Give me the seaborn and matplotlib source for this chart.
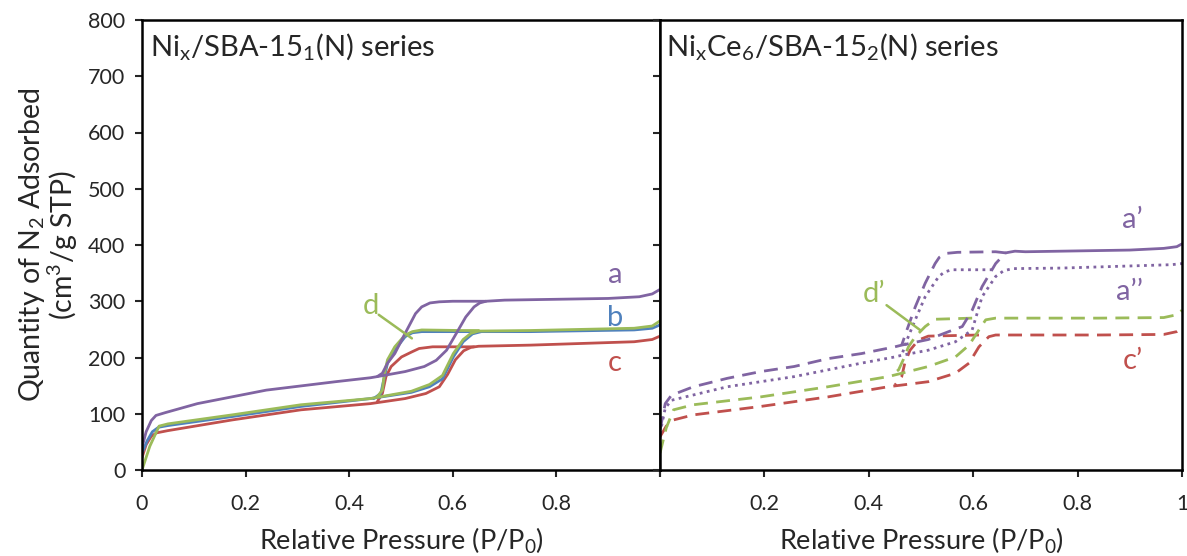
import matplotlib
matplotlib.use("Agg")
import matplotlib.pyplot as plt
import seaborn as sns

# N2 isotherms, left panel: Ni_x/SBA-15_1(N)
a_ads_p = [0.0, 0.008, 0.018, 0.027, 0.045, 0.107, 0.24, 0.374, 0.441, 0.454, 0.508, 0.545, 0.568,
           0.588, 0.605, 0.625, 0.641, 0.652, 0.664, 0.70, 0.90, 0.96, 0.985, 1.0]
a_ads_q = [40, 68, 88, 97, 102, 118, 142, 157, 164, 166, 175, 184, 195,
           213, 240, 272, 290, 297, 300, 302, 305, 308, 313, 321]
a_des_p = [0.664, 0.60, 0.574, 0.556, 0.540, 0.528, 0.508, 0.488, 0.474, 0.464, 0.454]
a_des_q = [300, 300, 299, 297, 290, 278, 243, 207, 190, 172, 166]

b_ads_p = [0.0, 0.010, 0.020, 0.032, 0.05, 0.174, 0.307, 0.441, 0.520, 0.555, 0.580, 0.601, 0.620,
           0.638, 0.655, 0.75, 0.95, 0.985, 1.0]
b_ads_q = [30, 52, 68, 76, 79, 95, 113, 127, 138, 148, 162, 201, 228, 242, 246, 246, 249, 252, 258]
b_des_p = [0.655, 0.614, 0.540, 0.522, 0.508, 0.488, 0.474, 0.468, 0.461, 0.447]
b_des_q = [246, 246, 246, 244, 237, 213, 190, 166, 136, 127]

c_ads_p = [0.0, 0.008, 0.018, 0.028, 0.05, 0.174, 0.307, 0.441, 0.508, 0.548, 0.574, 0.590, 0.605,
           0.621, 0.635, 0.65, 0.75, 0.95, 0.985, 1.0]
c_ads_q = [22, 45, 60, 66, 70, 89, 107, 118, 127, 136, 148, 170, 196, 212, 218, 220, 222, 228, 232, 238]
c_des_p = [0.641, 0.601, 0.561, 0.535, 0.521, 0.501, 0.481, 0.471, 0.464, 0.454]
c_des_q = [219, 219, 219, 216, 210, 201, 184, 166, 136, 121]

d_ads_p = [0.0, 0.015, 0.033, 0.05, 0.174, 0.307, 0.441, 0.520, 0.555, 0.580, 0.601, 0.620,
           0.635, 0.650, 0.75, 0.95, 0.985, 1.0]
d_ads_q = [0, 42, 78, 82, 98, 116, 127, 140, 152, 168, 207, 232, 243, 247, 248, 252, 256, 265]
d_des_p = [0.650, 0.614, 0.540, 0.522, 0.508, 0.488, 0.474, 0.468, 0.464, 0.454]
d_des_q = [248, 248, 249, 246, 240, 219, 196, 172, 142, 130]

# right panel: Ni_xCe_6/SBA-15_2(N)
a1_ads_p = [0.0, 0.010, 0.022, 0.064, 0.129, 0.193, 0.257, 0.322, 0.386, 0.450, 0.463, 0.514,
            0.553, 0.579, 0.598, 0.617, 0.643, 0.662]
a1_ads_q = [71, 118, 133, 148, 163, 175, 184, 198, 207, 219, 222, 232, 246, 255, 284, 326, 367, 386]
a1_plat_p = [0.662, 0.68, 0.70, 0.90, 0.965, 0.99, 1.0]
a1_plat_q = [386, 389, 388, 391, 394, 397, 402]
a1_des_p = [0.662, 0.643, 0.57, 0.547, 0.535, 0.527, 0.508, 0.489, 0.473, 0.463]
a1_des_q = [386, 388, 387, 385, 378, 367, 332, 290, 249, 222]

a2_ads_p = [0.0, 0.010, 0.022, 0.129, 0.257, 0.386, 0.450, 0.463, 0.514, 0.566, 0.598, 0.617,
            0.643, 0.658, 0.675, 0.77, 0.98, 1.0]
a2_ads_q = [65, 110, 124, 148, 166, 190, 201, 204, 213, 228, 249, 308, 344, 354, 358, 359, 365, 367]
a2_des_p = [0.637, 0.559, 0.545, 0.534, 0.508, 0.489, 0.473, 0.463]
a2_des_q = [356, 356, 352, 344, 308, 267, 231, 204]

c1_ads_p = [0.0, 0.012, 0.026, 0.064, 0.193, 0.322, 0.437, 0.463, 0.514, 0.566, 0.592, 0.611,
            0.630, 0.643, 0.84, 0.965, 0.99, 1.0]
c1_ads_q = [59, 78, 89, 98, 113, 130, 148, 151, 157, 172, 190, 219, 237, 240, 240, 241, 246, 252]
c1_des_p = [0.611, 0.514, 0.495, 0.479, 0.469, 0.463, 0.450]
c1_des_q = [240, 238, 231, 213, 190, 166, 151]

d1_ads_p = [0.0, 0.012, 0.026, 0.064, 0.193, 0.322, 0.437, 0.463, 0.514, 0.566, 0.592, 0.611,
            0.624, 0.643, 0.84, 0.965, 0.99, 1.0]
d1_ads_q = [30, 75, 107, 116, 130, 148, 166, 172, 184, 201, 222, 249, 267, 270, 270, 271, 276, 284]
d1_des_p = [0.598, 0.527, 0.508, 0.489, 0.476, 0.466, 0.457, 0.444]
d1_des_q = [270, 268, 255, 237, 219, 196, 178, 169]

purple = "#8064A2"
blue = "#4F81BD"
red = "#C0504D"
green = "#9BBB59"

sns.set_style("ticks")
plt.rcParams["font.family"] = ["Lato", "DejaVu Sans"]
plt.rcParams["mathtext.fontset"] = "custom"
plt.rcParams["mathtext.rm"] = "Lato"
plt.rcParams["mathtext.it"] = "Lato:italic"
plt.rcParams["mathtext.default"] = "regular"

fig = plt.figure(figsize=(11.87, 5.56), dpi=100)
ax1 = fig.add_axes([142 / 1187, 86 / 556, 518 / 1187, 450 / 556])
ax2 = fig.add_axes([660 / 1187, 86 / 556, 522 / 1187, 450 / 556])

lw = 2.0


def draw(ax, p, q, color, style="-"):
    ln = sns.lineplot(x=p, y=q, ax=ax, color=color, lw=lw, sort=False, estimator=None)
    line = ln.lines[-1]
    line.set_solid_joinstyle("round")
    if style == "--":
        line.set_dashes((5, 3))
    elif style == ":":
        line.set_dashes((1, 1.6))


# left panel
for p, q, col in [(c_ads_p, c_ads_q, red), (c_des_p, c_des_q, red),
                  (b_ads_p, b_ads_q, blue), (b_des_p, b_des_q, blue),
                  (d_ads_p, d_ads_q, green), (d_des_p, d_des_q, green),
                  (a_ads_p, a_ads_q, purple), (a_des_p, a_des_q, purple)]:
    draw(ax1, p, q, col)

# right panel
for p, q, col, st in [(c1_ads_p, c1_ads_q, red, "--"), (c1_des_p, c1_des_q, red, "--"),
                      (d1_ads_p, d1_ads_q, green, "--"), (d1_des_p, d1_des_q, green, "--"),
                      (a2_ads_p, a2_ads_q, purple, ":"), (a2_des_p, a2_des_q, purple, ":"),
                      (a1_ads_p, a1_ads_q, purple, "--"), (a1_des_p, a1_des_q, purple, "--"),
                      (a1_plat_p, a1_plat_q, purple, "-")]:
    draw(ax2, p, q, col, st)

for ax in (ax1, ax2):
    ax.set_xlim(0, 1)
    ax.set_ylim(0, 800)
    ax.set_xticks([0, 0.2, 0.4, 0.6, 0.8, 1.0])
    ax.set_yticks(range(0, 801, 100))
    ax.tick_params(direction="out", length=5, width=1.5, labelsize=15.5)
    ax.tick_params(axis="x", pad=12)
    ax.tick_params(axis="y", pad=7)
    for s in ax.spines.values():
        s.set_visible(True)
        s.set_linewidth(1.8)
        s.set_color("black")
    ax.set_xlabel("Relative Pressure (P/P$_0$)", fontsize=19.5, labelpad=9)

ax1.set_xticklabels(["0", "0.2", "0.4", "0.6", "0.8", ""])
ax2.set_xticklabels(["", "0.2", "0.4", "0.6", "0.8", "1"])
ax2.set_yticklabels([])
ax2.set_ylabel("")
ax1.set_ylabel("Quantity of N$_2$ Adsorbed\n(cm$^3$/g STP)", fontsize=20.5, labelpad=6, linespacing=0.95)

ax1.text(0.016, 0.942, "Ni$_x$/SBA-15$_1$(N) series", transform=ax1.transAxes,
         fontsize=21, va="center", ha="left")
ax2.text(0.012, 0.942, "Ni$_x$Ce$_6$/SBA-15$_2$(N) series", transform=ax2.transAxes,
         fontsize=21, va="center", ha="left")

# series labels
ax1.text(0.913, 347, "a", color=purple, fontsize=21, ha="center", va="center")
ax1.text(0.913, 270, "b", color=blue, fontsize=21, ha="center", va="center")
ax1.text(0.913, 191, "c", color=red, fontsize=21, ha="center", va="center")
ax1.text(0.441, 292, "d", color=green, fontsize=21, ha="center", va="center")
ax1.plot([0.457, 0.521], [276, 234], color=green, lw=1.8)

ax2.text(0.905, 444, "a\u2019", color=purple, fontsize=21, ha="center", va="center")
ax2.text(0.900, 316, "a\u2019\u2019", color=purple, fontsize=21, ha="center", va="center")
ax2.text(0.905, 193, "c\u2019", color=red, fontsize=21, ha="center", va="center")
ax2.text(0.410, 312, "d\u2019", color=green, fontsize=21, ha="center", va="center")
ax2.plot([0.434, 0.498], [293, 249], color=green, lw=1.8)

fig.savefig("out.png", dpi=100)
